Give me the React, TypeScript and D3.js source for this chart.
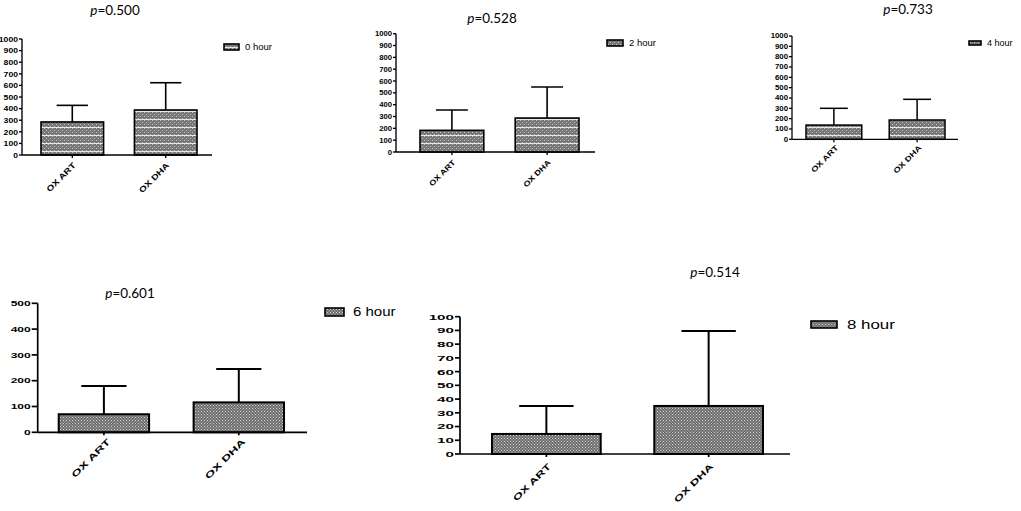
import React from "react";
import * as d3 from "d3";

// values (means and upper SD whisker)
const categories = ["OX ART", "OX DHA"];
const hourLabels = ["0 hour", "2 hour", "4 hour", "6 hour", "8 hour"];
const pValues = ["0.500", "0.528", "0.733", "0.601", "0.514"];
const artMeans = [285, 183, 138, 70, 14.6];
const artUpper = [428, 355, 300, 179, 35];
const dhaMeans = [388, 287, 187, 116, 35];
const dhaUpper = [623, 549, 387, 245, 89.6];
const yMaxes = [1000, 1000, 1000, 500, 100];
const yTickSteps = [100, 100, 100, 100, 10];

// where each little GraphPad panel sits on the page
const layouts = [
  { left: 22, right: 212, top: 39, bottom: 155, bars: [41, 197], title: [115, 10], tickFont: 7.5, tickSx: 1.15, tickLen: 3, xFont: 8, xSx: 1.25, xOff: [4, 11], lw: 1.6, pat: "dotsLined", legend: { x: 224, y: 44, w: 15, h: 6, tx: 245, font: 9.5, sx: 1 } },
  { left: 396, right: 595, top: 33.7, bottom: 152, bars: [420, 579], title: [492, 18], tickFont: 7, tickSx: 1.1, tickLen: 3, xFont: 7.5, xSx: 1.2, xOff: [4, 11], lw: 1.6, pat: "dotsLined", legend: { x: 607, y: 40, w: 16, h: 6, tx: 629, font: 9.5, sx: 1 } },
  { left: 792, right: 958, top: 36, bottom: 139.3, bars: [806, 945], title: [908, 9], tickFont: 6.5, tickSx: 1.2, tickLen: 3, xFont: 7.5, xSx: 1.25, xOff: [5, 9], lw: 1.5, pat: "dotsLined", legend: { x: 969, y: 41, w: 12, h: 4, tx: 987, font: 9, sx: 1 } },
  { left: 37.7, right: 307, top: 303.3, bottom: 432.3, bars: [58.7, 284], title: [130, 293], tickFont: 7.5, tickSx: 1.6, tickLen: 6, xFont: 8.5, xSx: 1.6, xOff: [7, 10], lw: 2, pat: "dots", legend: { x: 325, y: 308, w: 19, h: 8, tx: 353, font: 12.5, sx: 1.2 } },
  { left: 460, right: 790, top: 316.7, bottom: 454, bars: [492, 763], title: [715, 272], tickFont: 8, tickSx: 1.9, tickLen: 5, xFont: 8.5, xSx: 1.55, xOff: [5, 13], lw: 2, pat: "dots", legend: { x: 811, y: 321, w: 26, h: 7, tx: 847, font: 13, sx: 1.3 } },
];

const Panel = ({ i }: { i: number }) => {
  const L = layouts[i];
  const means = [artMeans[i], dhaMeans[i]];
  const upper = [artUpper[i], dhaUpper[i]];

  const y = d3.scaleLinear().domain([0, yMaxes[i]]).range([L.bottom, L.top]);
  const x = d3
    .scaleBand()
    .domain(categories)
    .range(L.bars as [number, number])
    .paddingInner(0.33)
    .paddingOuter(0);
  const ticks = d3.range(0, yMaxes[i] + yTickSteps[i] / 2, yTickSteps[i]);
  const bw = x.bandwidth();

  return (
    <g>
      <text
        x={L.title[0]}
        y={L.title[1]}
        dy="0.35em"
        textAnchor="middle"
        fontFamily="Lato, 'Open Sans', sans-serif"
        fontSize={13.5}
      >
        <tspan fontStyle="italic">p</tspan>={pValues[i]}
      </text>

      {/* bars */}
      {categories.map((c, j) => (
        <rect
          key={c}
          x={x(c)}
          y={y(means[j])}
          width={bw}
          height={L.bottom - y(means[j])}
          fill={`url(#${L.pat})`}
          stroke="#000"
          strokeWidth={L.lw}
        />
      ))}

      {/* upper error bars */}
      {categories.map((c, j) => {
        const cx = (x(c) as number) + bw / 2;
        return (
          <g key={c} stroke="#000" strokeWidth={L.lw}>
            <line x1={cx} x2={cx} y1={y(means[j])} y2={y(upper[j])} />
            <line x1={cx - bw / 4} x2={cx + bw / 4} y1={y(upper[j])} y2={y(upper[j])} />
          </g>
        );
      })}

      {/* axes */}
      <g stroke="#000" strokeWidth={L.lw * 0.85} fill="none">
        <line x1={L.left} x2={L.left} y1={L.top} y2={L.bottom} />
        <line x1={L.left} x2={L.right} y1={L.bottom} y2={L.bottom} />
        {ticks.map((t) => (
          <line key={t} x1={L.left - L.tickLen} x2={L.left} y1={y(t)} y2={y(t)} />
        ))}
        {categories.map((c) => {
          const cx = (x(c) as number) + bw / 2;
          return <line key={c} x1={cx} x2={cx} y1={L.bottom} y2={L.bottom + 3} />;
        })}
      </g>

      {ticks.map((t) => (
        <text
          key={t}
          transform={`translate(${L.left - L.tickLen - 1},${y(t)}) scale(${L.tickSx},1)`}
          dy="0.36em"
          textAnchor="end"
          fontFamily="'Liberation Sans', Arial, sans-serif"
          fontWeight="bold"
          fontSize={L.tickFont}
        >
          {t}
        </text>
      ))}

      {categories.map((c) => {
        const cx = (x(c) as number) + bw / 2;
        return (
          <text
            key={c}
            transform={`translate(${cx + L.xOff[0]},${L.bottom + L.xOff[1]}) rotate(-45) scale(${L.xSx},1)`}
            textAnchor="end"
            fontFamily="'Liberation Sans', Arial, sans-serif"
            fontWeight="bold"
            fontSize={L.xFont}
          >
            {c}
          </text>
        );
      })}

      {/* legend */}
      <rect
        x={L.legend.x}
        y={L.legend.y}
        width={L.legend.w}
        height={L.legend.h}
        fill={`url(#${L.pat})`}
        stroke="#000"
        strokeWidth={1.6}
      />
      <text
        transform={`translate(${L.legend.tx},${L.legend.y + L.legend.h / 2}) scale(${L.legend.sx},1)`}
        dy="0.35em"
        fontFamily="'Liberation Sans', Arial, sans-serif"
        fontSize={L.legend.font}
      >
        {hourLabels[i]}
      </text>
    </g>
  );
};

export default function App() {
  return (
    <svg
      width={1021}
      height={511}
      style={{ position: "absolute", left: 0, top: 0, background: "#fff" }}
    >
      <defs>
        <pattern id="dotsLined" width={4} height={8} patternUnits="userSpaceOnUse">
          <rect width={4} height={8} fill="#777" />
          <rect x={0} y={0} width={1} height={1} fill="#c4c4c4" />
          <rect x={2} y={2} width={1} height={1} fill="#c4c4c4" />
          <rect x={0} y={4} width={1} height={1} fill="#c4c4c4" />
          <rect x={2} y={6} width={1} height={1} fill="#c4c4c4" />
          <rect x={0} y={7} width={4} height={1} fill="#e8e8e8" />
        </pattern>
        <pattern id="dots" width={3} height={3} patternUnits="userSpaceOnUse">
          <rect width={3} height={3} fill="#6e6e6e" />
          <rect x={0} y={0} width={1} height={1} fill="#d4d4d4" />
          <rect x={1.5} y={1.5} width={1} height={1} fill="#c8c8c8" />
        </pattern>
      </defs>
      {layouts.map((_, i) => (
        <Panel key={i} i={i} />
      ))}
    </svg>
  );
}
